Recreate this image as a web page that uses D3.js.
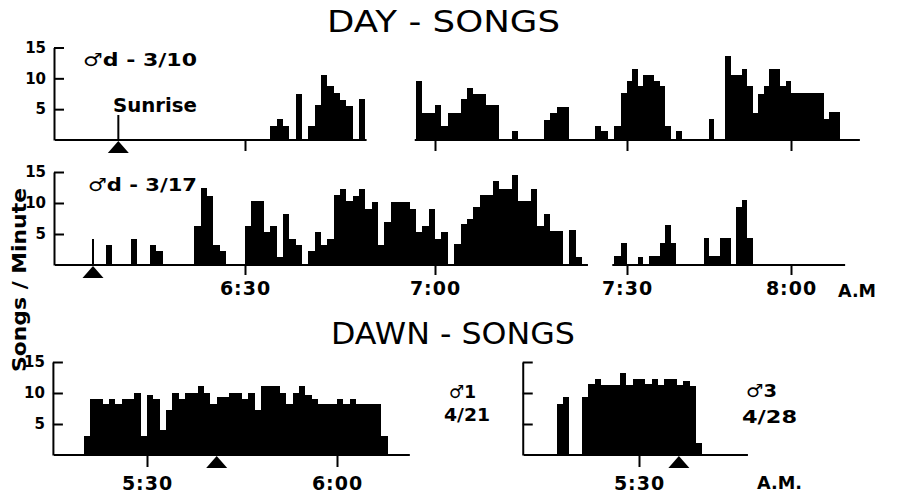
<!DOCTYPE html>
<html><head><meta charset="utf-8">
<script src="https://cdn.jsdelivr.net/npm/d3@7"></script>
<style>html,body{margin:0;padding:0;background:#fff;} svg{display:block;background:#fff}</style>
</head><body><svg id="chart" width="899" height="501"></svg>
<script>
// ================= DATA =================
// Day-song panels: times are minutes after 6:00 A.M.
const dayTickMinutes = [30, 60, 90, 120];
const dayTickLabels = ["6:30", "7:00", "7:30", "8:00"];
// Dawn-song panels: times are minutes after 5:00 A.M.
const dawnLeftTickMinutes = [30, 60];
const dawnLeftTickLabels = ["5:30", "6:00"];
const dawnRightTickMinutes = [30];
const dawnRightTickLabels = ["5:30"];
const yTickValues = [5, 10, 15];

// songs per minute, one value per minute starting at *Start
const day310Start = 34;
const day310Values = [2.3, 3.4, 2.3, 0, 7.4, 0, 2.3, 5.6, 10.5, 8.8, 7.6, 6.5, 5.5, 0, 6.7,
  0, 0, 0, 0, 0, 0, 0, 0,
  9.5, 4.3, 4.3, 5.6, 2.2, 4.3, 4.3, 6.6, 8.5, 7.4, 7.4, 5.6, 5.6, 0, 0, 1.4, 0, 0, 0, 0,
  3.3, 4.4, 5.4, 5.4, 0, 0, 0, 0, 2.3, 1.5, 0, 2.3, 7.6,
  9.6, 11.5, 8.8, 10.5, 10.5, 9.6, 8.8, 2.3, 0, 1.5, 0, 0, 0, 0, 0, 3.4, 0, 0,
  13.7, 10.6, 10.6, 11.5, 8.7, 4.3, 7.4, 8.7, 11.5, 11.5, 8.7, 9.6,
  7.6, 7.6, 7.6, 7.6, 7.6, 7.6, 3.4, 4.5, 4.5];
const day310Recorded = [[0, 49.2], [56.8, 132.6]];
const day310Sunrise = 10;

const day317Start = 8;
const day317Values = [3.3, 0, 0, 0, 4.2, 0, 0, 3.3, 2.3, 0, 0, 0, 0, 0,
  6.3, 12.4, 11.2, 3.2, 2.3, 0, 0, 0,
  6.3, 10.4, 10.4, 5.3, 6.3, 1.3, 8.3, 4.2, 3.2, 0, 2.3, 5.3, 3.3, 4.2, 11.3, 12.3,
  10.3, 11.2, 12.3, 9.1, 10.2, 3.3, 7.0, 10.2, 10.2, 10.2, 9.1, 5.4, 6.3, 9.1,
  4.2, 5.3, 0, 3.4, 6.6, 7.5, 9.3, 11.3, 11.3, 13.5, 12.3, 12.3, 14.5, 10.4, 10.4, 12.3,
  6.3, 8.3, 5.5, 5.5, 0, 5.6, 1.3, 0, 0, 0, 0, 0, 1.4, 3.5,
  0, 0, 1.3, 0, 1.4, 1.4, 3.5, 6.5, 3.5, 0, 0, 0, 0, 0, 4.3, 1.5, 1.5, 4.3, 4.3, 0,
  9.3, 10.5, 4.3];
const day317Recorded = [[0, 83.9], [87.7, 129.9]];
const day317Sunrise = 6;

const dawn421Start = 20;
const dawn421Values = [3, 9.1, 9.1, 8.3, 9.1, 8.3, 9.1, 9.1, 10, 3, 9.7, 9.1, 4.1, 7.3, 10, 9.1,
  10, 10, 11.1, 10, 8.3, 9.3, 9.3, 10, 10, 9.1, 10, 7.3, 11.1, 11.1, 11.1, 10, 8.3, 10,
  11.1, 9.7, 9.1, 8.3, 8.3, 8.3, 9.1, 8.3, 9.1, 8.3, 8.3, 8.3, 8.3, 3];
const dawn421Recorded = [[15.3, 71.5]];
const dawn421Sunrise = 41;

const dawn428Start = 17;
const dawn428Values = [8.3, 9.3, 0, 0, 9.3, 11.4, 12.2, 11.3, 11.3, 11.3, 13.3, 11.3, 12.2,
  12.2, 11.5, 12.2, 11.3, 12.2, 12.2, 11.3, 12, 11.1, 1.9];
const dawn428Recorded = [[11.8, 47.2]];
const dawn428Sunrise = 36.3;

// ================= DRAWING =================
const svg = d3.select("#chart");
const FONT = "'DejaVu Sans', Verdana, sans-serif";

const xDay = d3.scaleLinear().domain([0].concat(dayTickMinutes)).range([55, 245, 435, 627, 791]);
const xDawnL = d3.scaleLinear().domain(dawnLeftTickMinutes).range([147, 337]);
const xDawnR = d3.scaleLinear().domain([30, 60]).range([639, 829]);

const yTop = d3.scaleLinear().domain([0, 15]).range([140, 47.5]);
const yMid = d3.scaleLinear().domain([0, 15]).range([265, 172]);
const yBot = d3.scaleLinear().domain([0, 15]).range([455, 362]);

function drawPanel(o) {
  const g = svg.append("g");
  const x = o.x, y = o.y;
  const bars = o.values.map((v, i) => ({ m: o.start + i, v })).filter(d => d.v > 0);
  g.selectAll("rect").data(bars).join("rect")
    .attr("x", d => x(d.m))
    .attr("width", d => x(d.m + 1) - x(d.m))
    .attr("y", d => y(d.v))
    .attr("height", d => y(0) - y(d.v))
    .attr("fill", "#000")
    .attr("shape-rendering", "crispEdges");

  // baseline (recorded intervals)
  g.selectAll("line.base").data(o.recorded).join("line").attr("class", "base")
    .attr("x1", d => x(d[0])).attr("x2", d => x(d[1]))
    .attr("y1", y(0)).attr("y2", y(0))
    .attr("stroke", "#000").attr("stroke-width", 2);

  // x ticks
  const xa = d3.axisBottom(x).tickValues(o.ticks).tickSize(o.tickLen).tickPadding(o.pad)
    .tickFormat((d, i) => o.tickLabels ? o.tickLabels[i] : "");
  const gx = g.append("g").attr("transform", `translate(0,${y(0)})`).call(xa);
  gx.select(".domain").remove();
  gx.selectAll("line").attr("stroke", "#000").attr("stroke-width", 2);
  gx.selectAll("text").attr("font-family", FONT).attr("font-weight", "bold")
    .attr("font-size", 19).attr("fill", "#000").attr("letter-spacing", 1);

  // y axis
  const ya = d3.axisLeft(y).tickValues(yTickValues).tickSizeInner(-10).tickSizeOuter(0).tickPadding(8)
    .tickFormat(d => o.yLabels ? d : "");
  const gy = g.append("g").attr("transform", `translate(${x(o.recorded[0][0]) - 1},0)`).call(ya);
  gy.select(".domain").attr("stroke", "#000").attr("stroke-width", 2);
  gy.selectAll("line").attr("stroke", "#000").attr("stroke-width", 2);
  gy.selectAll("text").attr("font-family", FONT).attr("font-weight", "bold")
    .attr("font-size", 15).attr("fill", "#000");

  // sunrise marker
  const sx = x(o.sunrise), by = y(0);
  const p = d3.path();
  p.moveTo(sx, by + 1); p.lineTo(sx - 10.5, by + 13); p.lineTo(sx + 10.5, by + 13); p.closePath();
  g.append("path").attr("d", p.toString()).attr("fill", "#000");
  if (o.sunriseLineTop) {
    g.append("line").attr("x1", sx).attr("x2", sx).attr("y1", o.sunriseLineTop).attr("y2", by)
      .attr("stroke", "#000").attr("stroke-width", 2);
  }
}

drawPanel({ x: xDay, y: yTop, values: day310Values, start: day310Start, recorded: day310Recorded,
  ticks: dayTickMinutes, tickLabels: null, tickLen: 11, pad: 6, yLabels: true,
  sunrise: day310Sunrise, sunriseLineTop: 115 });
drawPanel({ x: xDay, y: yMid, values: day317Values, start: day317Start, recorded: day317Recorded,
  ticks: dayTickMinutes, tickLabels: dayTickLabels, tickLen: 10, pad: 7, yLabels: true,
  sunrise: day317Sunrise, sunriseLineTop: 239 });
drawPanel({ x: xDawnL, y: yBot, values: dawn421Values, start: dawn421Start, recorded: dawn421Recorded,
  ticks: dawnLeftTickMinutes, tickLabels: dawnLeftTickLabels, tickLen: 12, pad: 10, yLabels: true,
  sunrise: dawn421Sunrise, sunriseLineTop: null });
drawPanel({ x: xDawnR, y: yBot, values: dawn428Values, start: dawn428Start, recorded: dawn428Recorded,
  ticks: dawnRightTickMinutes, tickLabels: dawnRightTickLabels, tickLen: 12, pad: 10, yLabels: false,
  sunrise: dawn428Sunrise, sunriseLineTop: null });

// texts
function txt(s, x, y, size, weight, len, anchor) {
  const t = svg.append("text").attr("x", x).attr("y", y).text(s)
    .attr("font-family", FONT).attr("font-size", size).attr("font-weight", weight)
    .attr("fill", "#000").attr("text-anchor", anchor || "start");
  if (len) t.attr("textLength", len).attr("lengthAdjust", "spacingAndGlyphs");
  return t;
}
txt("DAY - SONGS", 327, 32, 30, "normal", 233);
txt("DAWN - SONGS", 331, 344, 30, "normal", 244);
txt("♂d - 3/10", 83, 66, 18, "bold", 114);
txt("Sunrise", 113, 112, 19, "bold", 84);
txt("♂d - 3/17", 88, 191, 18, "bold", 109);
txt("A.M", 838, 297, 18, "bold", 38);
txt("♂1", 449, 398, 18, "bold", 27);
txt("4/21", 444, 421, 18, "bold", 46);
txt("♂3", 746, 397, 18, "bold", 31);
txt("4/28", 742, 423, 18, "bold", 55);
txt("A.M.", 757, 489, 18, "bold", 45);
svg.append("text").text("Songs / Minute")
  .attr("transform", "translate(26,280) rotate(-90)")
  .attr("text-anchor", "middle")
  .attr("font-family", FONT).attr("font-size", 19).attr("font-weight", "bold").attr("fill", "#000")
  .attr("textLength", 184).attr("lengthAdjust", "spacingAndGlyphs");
</script>
</body></html>
